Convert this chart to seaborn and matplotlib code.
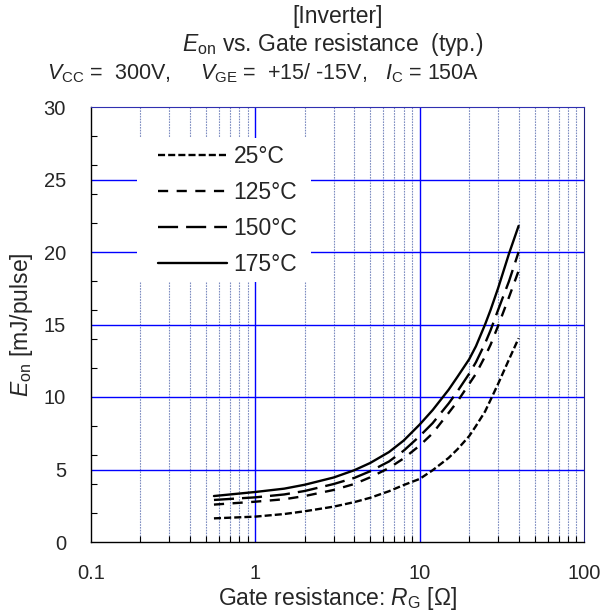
import numpy as np
import pandas as pd
import matplotlib
matplotlib.use("Agg")
import matplotlib.pyplot as plt
import seaborn as sns
from matplotlib.ticker import FixedLocator, NullFormatter
from matplotlib.patches import Rectangle

# ---- data ----
rg = [0.56, 1, 1.5, 2, 3, 4, 5, 6.5, 8, 10, 12, 15, 17, 20, 22, 25, 27, 30, 35, 40]
eon_25 = [1.63, 1.75, 1.93, 2.12, 2.44, 2.75, 3.05, 3.5, 3.93, 4.35, 4.95, 5.8, 6.4,
          7.3, 8.0, 9.0, 9.8, 10.9, 12.6, 14.05]
eon_125 = [2.58, 2.78, 2.95, 3.17, 3.59, 4.0, 4.46, 5.1, 5.77, 6.65, 7.5, 8.9, 9.7,
           10.9, 11.6, 12.8, 13.6, 14.9, 16.9, 18.7]
eon_150 = [2.9, 3.08, 3.28, 3.52, 4.0, 4.42, 4.88, 5.55, 6.3, 7.3, 8.2, 9.55, 10.4,
           11.6, 12.4, 13.7, 14.6, 16.0, 18.0, 20.0]
eon_175 = [3.17, 3.45, 3.68, 3.95, 4.45, 4.95, 5.45, 6.2, 7.0, 8.1, 9.1, 10.5, 11.4,
           12.6, 13.5, 15.0, 16.0, 17.5, 19.9, 21.8]
temps = ["25°C", "125°C", "150°C", "175°C"]
x_ticks = [0.1, 1, 10, 100]
x_tick_labels = ["0.1", "1", "10", "100"]
y_ticks = [0, 5, 10, 15, 20, 25, 30]

series = {"25°C": eon_25, "125°C": eon_125, "150°C": eon_150, "175°C": eon_175}
df = pd.concat([pd.DataFrame({"Rg": rg, "Eon": v, "T": t}) for t, v in series.items()],
               ignore_index=True)

sns.set_style("white")
plt.rcParams["font.family"] = ["Liberation Sans", "DejaVu Sans"]
plt.rcParams["mathtext.fontset"] = "custom"
plt.rcParams["mathtext.rm"] = "Liberation Sans"
plt.rcParams["mathtext.it"] = "Liberation Sans:italic"

FS = 16.5
TFS = 14.5

fig = plt.figure(figsize=(6.11, 6.14), dpi=100)
ax = fig.add_axes([91 / 611, 72 / 614, 493 / 611, 435 / 614])

lw = 1.7
dashes = {"25°C": (3.0, 1.3), "125°C": (4.3, 3.6), "150°C": (8.5, 3.4), "175°C": ""}
sns.lineplot(data=df, x="Rg", y="Eon", hue="T", style="T", hue_order=temps, style_order=temps,
             palette=["black"] * 4, dashes=dashes, linewidth=lw, ax=ax, estimator=None,
             sort=False, legend=True, zorder=3)

ax.set_xscale("log")
ax.set_xlim(0.1, 100)
ax.set_ylim(0, 30)

# grid
minor_x = [m * d for d in (0.1, 1, 10) for m in range(2, 10)]
for xv in minor_x:
    ax.axvline(xv, color="#7d8cc0", lw=0.8, ls=(0, (1.5, 1)), zorder=0.5)
for xv in (1, 10):
    ax.axvline(xv, color="#0000ff", lw=1.0, zorder=0.6)
for yv in (5, 10, 15, 20, 25):
    ax.axhline(yv, color="#0000ff", lw=1.0, zorder=0.6)

# white legend background box (pixel coords of figure)
ax.add_patch(Rectangle((137 / 611, (614 - 282) / 614), (311 - 137) / 611, (282 - 138) / 614,
                       transform=fig.transFigure, facecolor="white", edgecolor="none",
                       zorder=1))

ax.xaxis.set_major_locator(FixedLocator(x_ticks))
ax.set_xticklabels(x_tick_labels)
ax.xaxis.set_minor_locator(FixedLocator(minor_x))
ax.xaxis.set_minor_formatter(NullFormatter())
ax.set_yticks(y_ticks)
ax.yaxis.set_minor_locator(FixedLocator([v for v in range(2, 30, 2)]))
ax.tick_params(axis="both", which="both", direction="in", length=4, width=0.8, color="black",
               labelsize=TFS, bottom=True, left=True, top=False, right=False)
ax.tick_params(axis="y", which="major", length=0, pad=18)
ax.tick_params(axis="x", which="major", length=0, pad=16)

for side in ("left", "bottom"):
    ax.spines[side].set_color("black")
    ax.spines[side].set_linewidth(1.0)
ax.spines["top"].set_color("#3030b0")
ax.spines["right"].set_color("#202080")

ax.set_xlabel(r"Gate resistance: $\mathit{R}_{\mathrm{G}}$ [Ω]", fontsize=FS, labelpad=1)
ax.set_ylabel(r"$\mathit{E}_{\mathrm{on}}$ [mJ/pulse]", fontsize=FS, labelpad=6)

leg = ax.legend(loc="upper left", bbox_to_anchor=(158 / 611, (614 - 145) / 614),
                bbox_transform=fig.transFigure, frameon=False, fontsize=FS,
                handlelength=3.0, labelspacing=0.57, handletextpad=0.3, borderpad=0,
                borderaxespad=0)
leg.set_zorder(5)
for h in leg.get_lines():
    h.set_linewidth(lw)

fig.text(338 / 611, 1 - 17 / 614, "[Inverter]", ha="center", va="center", fontsize=FS)
fig.text(333 / 611, 1 - 45 / 614, r"$\mathit{E}_{\mathrm{on}}$ vs. Gate resistance  (typ.)",
         ha="center", va="center", fontsize=FS)
fig.text(47 / 611, 1 - 73 / 614,
         r"$\mathit{V}_{\mathrm{CC}}$ =  300V,     $\mathit{V}_{\mathrm{GE}}$ =  +15/ -15V,   $\mathit{I}_{\mathrm{C}}$ = 150A",
         ha="left", va="center", fontsize=15.5)

fig.savefig("out.png", dpi=100, facecolor="white")
